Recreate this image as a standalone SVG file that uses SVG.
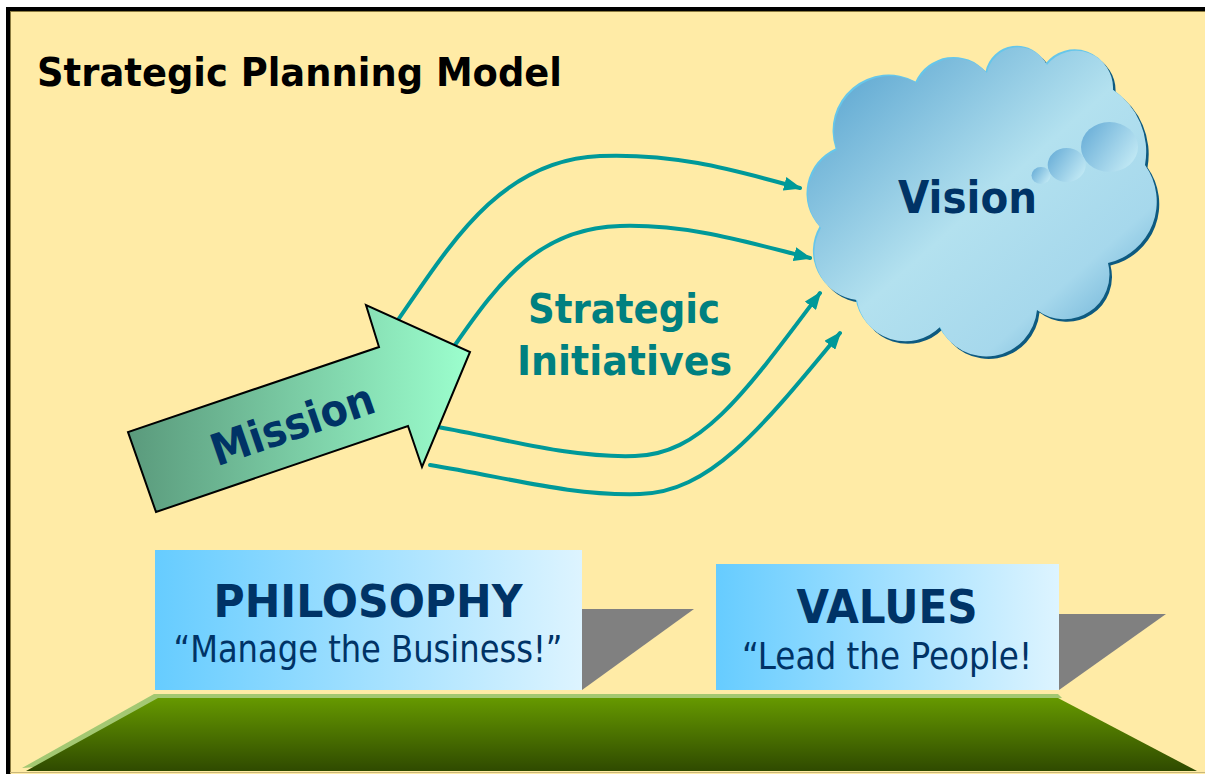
<svg xmlns="http://www.w3.org/2000/svg" width="1205" height="774" viewBox="0 0 1205 774">
<defs>
<style>
.bold{font-family:"DejaVu Sans","Noto Sans",sans-serif;font-weight:bold;}
.reg{font-family:"DejaVu Sans Condensed","DejaVu Sans","Noto Sans",sans-serif;font-weight:normal;}
.navy{fill:#003366;}
.conn{fill:none;stroke:#009999;stroke-width:4;stroke-linecap:round;marker-end:url(#ah);}
.shadow{fill:#808080;}
.box{fill:url(#boxGrad);}
</style>
<marker id="ah" markerUnits="userSpaceOnUse" markerWidth="18" markerHeight="14" viewBox="0 0 18 14" refX="16" refY="7" orient="auto">
<path d="M0,0 L18,7 L0,14 z" fill="#009999"/>
</marker>
<linearGradient id="arrowGrad" x1="0" y1="0" x2="1" y2="0">
<stop offset="0" stop-color="#5A9A7C"/>
<stop offset="1" stop-color="#9CFFCE"/>
</linearGradient>
<linearGradient id="cloudGrad" x1="0" y1="0" x2="1" y2="1">
<stop offset="0" stop-color="#4F9DCC"/>
<stop offset="0.5" stop-color="#B3E1EF"/>
<stop offset="0.75" stop-color="#A6D8EC"/>
<stop offset="1" stop-color="#4E9CCB"/>
</linearGradient>
<linearGradient id="bubbleGrad" x1="0" y1="0" x2="1" y2="0.6">
<stop offset="0" stop-color="#62A9D5"/>
<stop offset="1" stop-color="#BDE6F3"/>
</linearGradient>
<linearGradient id="boxGrad" x1="0" y1="0" x2="1" y2="0">
<stop offset="0" stop-color="#66CCFF"/>
<stop offset="1" stop-color="#DDF4FF"/>
</linearGradient>
<linearGradient id="groundGrad" x1="0" y1="0" x2="0" y2="1">
<stop offset="0" stop-color="#669900"/>
<stop offset="1" stop-color="#2F4A00"/>
</linearGradient>
<path id="cloudShape" d="M 837,150 A 56 56 0 0 1 917,83 A 42 42 0 0 1 987,73 A 32 32 0 0 1 1047,65 A 37 37 0 0 1 1113,90 A 74 74 0 0 1 1145,165 A 63 63 0 0 1 1108,263 A 45 45 0 0 1 1037,310 A 51 51 0 0 1 940,327 A 49 49 0 0 1 857,300 A 48 48 0 0 1 821,228 A 49 49 0 0 1 837,150 Z"/>
</defs>

<rect x="0" y="0" width="1205" height="774" fill="#FFFFFF"/>
<g id="panel">
<rect x="8" y="9" width="1200" height="770" fill="#FFEBA6"/>
<rect x="6" y="7" width="1199" height="4" fill="#000000"/>
<rect x="6" y="7" width="4" height="767" fill="#000000"/>
<line x1="10" y1="11.5" x2="1205" y2="11.5" stroke="#8A7A40" stroke-width="1"/>
<line x1="10.5" y1="11" x2="10.5" y2="774" stroke="#8A7A40" stroke-width="1"/>
<line x1="10" y1="772.5" x2="1205" y2="772.5" stroke="#C9B77A" stroke-width="1"/>
</g>

<g id="title">
<text class="bold" x="37" y="86" font-size="39" fill="#000000" textLength="525" lengthAdjust="spacingAndGlyphs">Strategic Planning Model</text>
</g>

<g id="ground">
<polygon points="154,694 1058,694 1062,698 22,768" fill="#A3C872"/>
<polygon points="158,698 1058,698 1197,771 26,771" fill="url(#groundGrad)"/>
</g>

<g id="philosophy">
<polygon class="shadow" points="582,609 694,609 582,690"/>
<rect class="box" x="155" y="550" width="427" height="140"/>
<text class="bold navy" x="368" y="617" font-size="44" text-anchor="middle" textLength="309" lengthAdjust="spacingAndGlyphs">PHILOSOPHY</text>
<text class="reg navy" x="368" y="662" font-size="38" text-anchor="middle" textLength="389" lengthAdjust="spacingAndGlyphs">“Manage the Business!”</text>
</g>

<g id="values">
<polygon class="shadow" points="1059,614 1166,614 1059,690"/>
<rect class="box" x="716" y="564" width="343" height="126"/>
<text class="bold navy" x="887" y="623" font-size="46" text-anchor="middle" textLength="181" lengthAdjust="spacingAndGlyphs">VALUES</text>
<text class="reg navy" x="887" y="669" font-size="38" text-anchor="middle" textLength="290" lengthAdjust="spacingAndGlyphs">“Lead the People!</text>
</g>

<g id="vision">
<use href="#cloudShape" transform="translate(2.5,2.5)" fill="#0E5A80"/>
<use href="#cloudShape" transform="translate(-1.5,-1.5)" fill="#66C6EA"/>
<use href="#cloudShape" fill="url(#cloudGrad)"/>
<ellipse cx="1109.5" cy="147" rx="28.5" ry="25" fill="url(#bubbleGrad)"/>
<ellipse cx="1066.7" cy="165" rx="19" ry="17" fill="url(#bubbleGrad)"/>
<ellipse cx="1041" cy="175.5" rx="9.5" ry="8.5" fill="url(#bubbleGrad)"/>
<text class="bold navy" x="898" y="213" font-size="45" textLength="139" lengthAdjust="spacingAndGlyphs">Vision</text>
</g>

<g id="connectors">
<path class="conn" d="M 398,320 C 450,245 500,160 600,156 C 680,153 740,172 800,188"/>
<path class="conn" d="M 455,345 C 500,280 540,228 620,226 C 690,224 750,243 810,258"/>
<path class="conn" d="M 438,427 C 510,440 570,458 635,456 C 700,454 740,400 820,293"/>
<path class="conn" d="M 430,465 C 510,478 570,496 640,494 C 710,492 760,430 840,333"/>
</g>

<g id="strategic-initiatives">
<text class="bold" x="624" y="323" font-size="41" fill="#008080" text-anchor="middle" textLength="192" lengthAdjust="spacingAndGlyphs">Strategic</text>
<text class="bold" x="624.5" y="375" font-size="41" fill="#008080" text-anchor="middle" textLength="215" lengthAdjust="spacingAndGlyphs">Initiatives</text>
</g>

<g id="mission">
<polygon points="156,512 128,432 379,347 366,305 470,352 422,467 408,426" fill="url(#arrowGrad)" stroke="#000000" stroke-width="2" stroke-linejoin="miter"/>
<text class="bold navy" transform="translate(297.5,439) rotate(-18.9)" x="0" y="0" font-size="44" text-anchor="middle" textLength="170" lengthAdjust="spacingAndGlyphs">Mission</text>
</g>
</svg>
